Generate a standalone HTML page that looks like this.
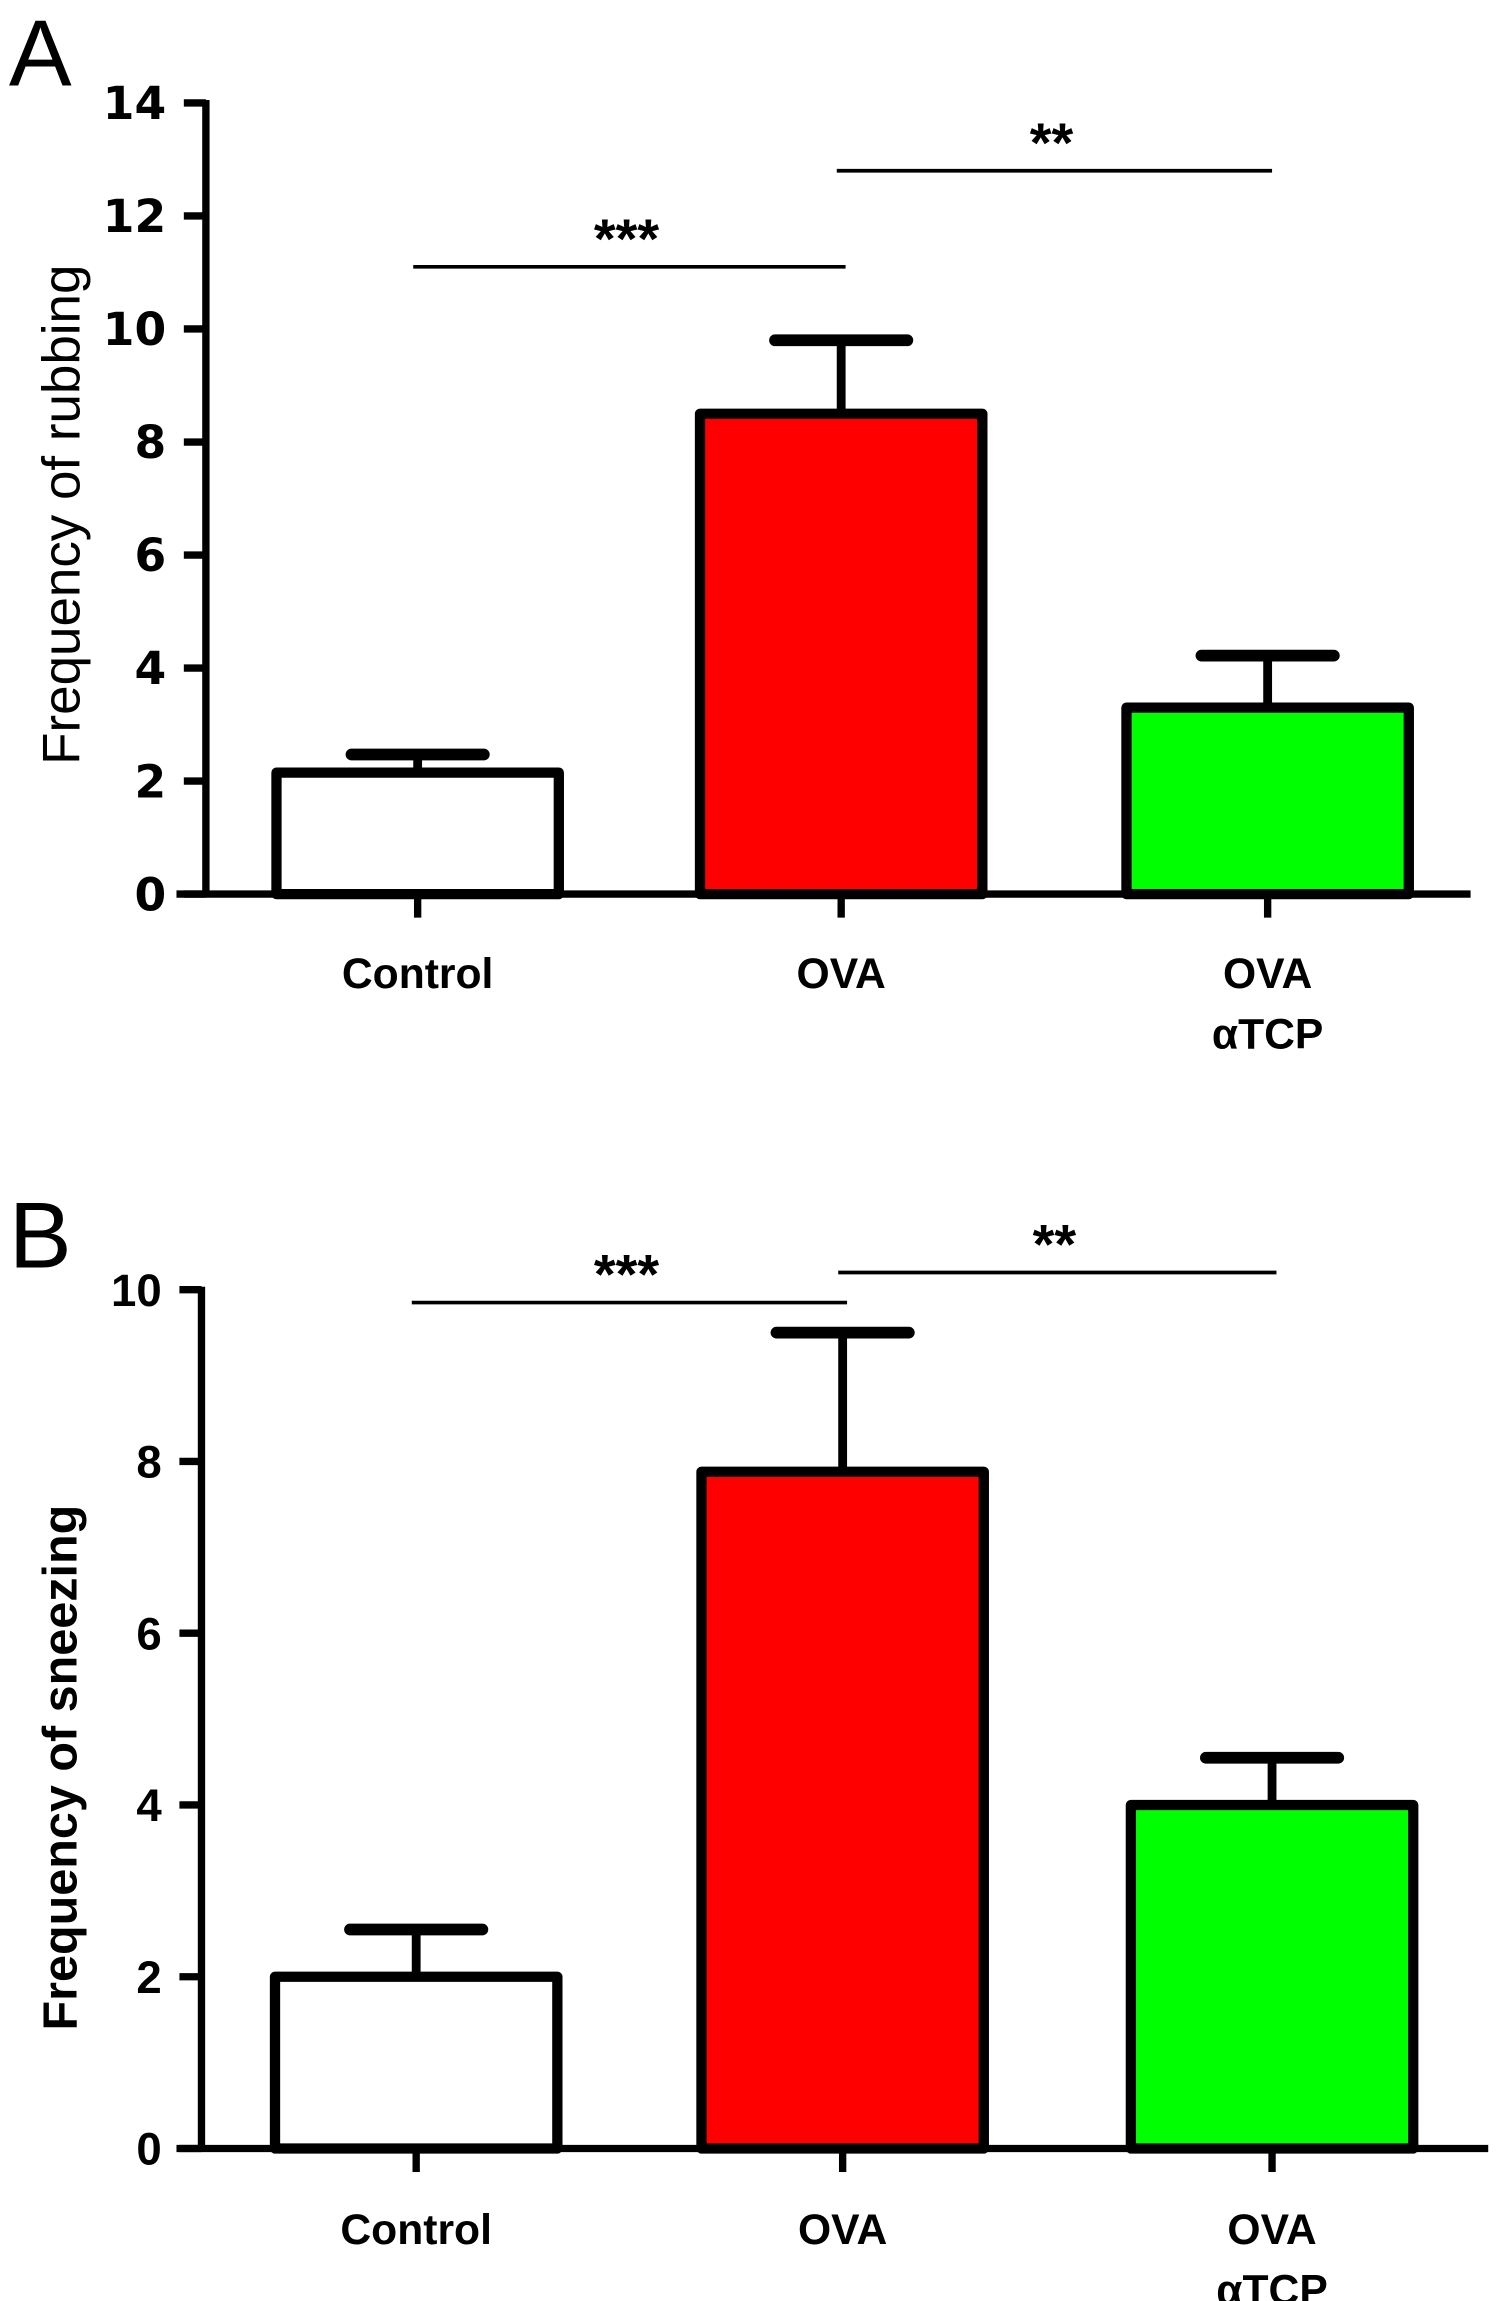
<!DOCTYPE html>
<html><head><meta charset="utf-8"><style>
html,body{margin:0;padding:0;background:#fff;}
svg{display:block;}
</style></head><body>
<svg id="fig" xmlns="http://www.w3.org/2000/svg" width="1500" height="2301" viewBox="0 0 1020 1564.7">
<rect width="1020" height="1565" fill="#fff"/>
</svg>
<script>
const categories = ["Control", "OVA", "OVA\nαTCP"];
const colorsList = ["#ffffff", "#ff0000", "#00ff00"];
const rubbingMeans = [2.15, 8.5, 3.3];
const rubbingErrors = [0.32, 1.3, 0.92];
const rubbingTicks = [0, 2, 4, 6, 8, 10, 12, 14];
const sneezingMeans = [2.0, 7.88, 4.0];
const sneezingErrors = [0.55, 1.62, 0.55];
const sneezingTicks = [0, 2, 4, 6, 8, 10];
const rubbingSig = [["***", 0, 1, 11.1], ["**", 1, 2, 12.8]];
const sneezingSig = [["***", 0, 1, 9.85], ["**", 1, 2, 10.2]];

const NS = "http://www.w3.org/2000/svg";
const svg = document.getElementById('fig');
function mk(tag, attrs, parent, text) {
  const e = document.createElementNS(NS, tag);
  for (const k in attrs) e.setAttribute(k, attrs[k]);
  if (text !== undefined) e.textContent = text;
  (parent || svg).appendChild(e);
  return e;
}

function panel(cfg) {
  const g = mk('g', {});
  
  
  const y = v => cfg.y0 - (v / cfg.max) * (cfg.y0 - cfg.yTop);
  const xc = i => cfg.centers[i];
  const L = mk('text', {x: 6, y: cfg.letterY, 'font-family': '"Liberation Sans", sans-serif', 'font-size': 64, fill: '#000'}, g, cfg.letter);
  
  
  cfg.means.forEach((m, i) => {
    const bx = xc(i) - 96, bw = 192;
    const r = mk('rect', {x: bx, y: y(m), width: bw, height: cfg.y0 - y(m), fill: colorsList[i], stroke: '#000', 'stroke-width': 7, 'stroke-linejoin': 'round'}, g);
    
    
    const top = y(m + cfg.errs[i]);
    const e1 = mk('line', {x1: xc(i), x2: xc(i), y1: y(m), y2: top, stroke: '#000', 'stroke-width': 6}, g);
    
    
    const e2 = mk('line', {x1: xc(i) - 45, x2: xc(i) + 45, y1: top, y2: top, stroke: '#000', 'stroke-width': 8, 'stroke-linecap': 'round'}, g);
    
    
  });
  const ya = mk('line', {x1: cfg.axisX, x2: cfg.axisX, y1: y(cfg.max) - 2, y2: cfg.y0 + 2, stroke: '#000', 'stroke-width': 5}, g);
  
  
  const xa = mk('line', {x1: 120, x2: cfg.xEnd, y1: cfg.y0, y2: cfg.y0, stroke: '#000', 'stroke-width': 5}, g);
  
  
  cfg.ticks.forEach(t => {
    const tl = mk('line', {x1: cfg.axisX - 15, x2: cfg.axisX, y1: y(t), y2: y(t), stroke: '#000', 'stroke-width': 5}, g);
    
    
    const tx = mk('text', {x: cfg.axisX - 27, y: y(t) + 11, 'text-anchor': 'end', 'font-family': cfg.tickFont, 'font-weight': 'bold', 'font-size': cfg.tickSize, fill: '#000'}, g, String(t));
    
    
  });
  categories.forEach((c, i) => {
    const tk = mk('line', {x1: xc(i), x2: xc(i), y1: cfg.y0, y2: cfg.y0 + 16, stroke: '#000', 'stroke-width': 5}, g);
    
    
    c.split('\n').forEach((line, j) => {
      const t = mk('text', {x: xc(i), y: cfg.labelY + j * 41, 'text-anchor': 'middle', 'font-family': '"Liberation Sans", sans-serif', 'font-weight': 'bold', 'font-size': 29, fill: '#000'}, g, line);
      
      
    });
  });
  const yt = mk('text', {x: 0, y: 0, transform: `translate(${cfg.titleX},${cfg.titleY}) rotate(-90)`, 'text-anchor': 'middle', 'font-family': '"Liberation Sans", sans-serif', 'font-weight': cfg.titleWeight, 'font-size': cfg.titleSize, fill: '#000'}, g, cfg.title);
  
  
  cfg.sig.forEach(s => {
    const sy = y(s[3]);
    const x1 = xc(s[1]) - 3, x2 = xc(s[2]) + 3;
    const ln = mk('line', {x1: x1, x2: x2, y1: sy, y2: sy, stroke: '#000', 'stroke-width': 2.5}, g);
    
    
    const st = mk('text', {x: (x1 + x2) / 2 - 2, y: sy - 6, 'text-anchor': 'middle', 'font-family': '"Liberation Sans", sans-serif', 'font-weight': 'bold', 'font-size': 38, fill: '#000'}, g, s[0]);
    
    
  });
}

panel({name: 'panel-a-rubbing', letter: 'A', letterY: 58, y0: 608, yTop: 70, max: 14, axisX: 140, xEnd: 1000,
  centers: [284, 572, 862], means: rubbingMeans, errs: rubbingErrors, ticks: rubbingTicks, sig: rubbingSig,
  tickFont: '"DejaVu Sans", sans-serif', tickSize: 31, labelY: 672, title: 'Frequency of rubbing', titleX: 54, titleY: 350, titleWeight: 'normal', titleSize: 36});
panel({name: 'panel-b-sneezing', letter: 'B', letterY: 862, y0: 1461, yTop: 877, max: 10, axisX: 137, xEnd: 1012,
  centers: [283, 573, 865], means: sneezingMeans, errs: sneezingErrors, ticks: sneezingTicks, sig: sneezingSig,
  tickFont: '"Liberation Sans", sans-serif', tickSize: 31, labelY: 1526, title: 'Frequency of sneezing', titleX: 52, titleY: 1202, titleWeight: 'bold', titleSize: 33});
</script>
</body></html>
